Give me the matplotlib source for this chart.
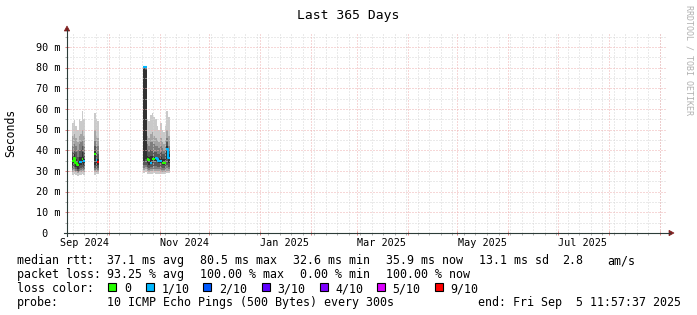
import matplotlib
matplotlib.use('Agg')
import matplotlib.pyplot as plt
import matplotlib.transforms as transforms
from matplotlib.patches import Rectangle, Polygon
from matplotlib.lines import Line2D
import numpy as np
from datetime import datetime, timedelta

# graph window: last 365 days ending at the probe's end time
start = datetime(2024, 9, 5, 11, 57, 37)
end = start + timedelta(days=365)

# three stretches of data (start day offset, number of 1-day columns)
cluster_start = [3.0, 16.5, 46.5]
cluster_cols = [8, 3, 16]

# sorted pings per column (ms), ping1 = fastest ... ping10 = slowest
ping10 = [53, 54.5, 52, 50, 55, 54, 59, 55,
          58, 55, 54,
          81, 80.5, 55, 54, 57, 58, 56, 55, 52, 50, 53, 50, 49, 52, 59, 56]
ping9 = [47, 48, 46, 44, 47, 48, 50, 47,
         50, 47, 46,
         80.5, 80.5, 47, 46, 48, 49, 47, 46, 45, 44, 46, 44, 43, 45, 50, 47]
ping8 = [42, 43, 42, 40, 43, 44, 45, 42,
         45, 42, 42,
         80.5, 80, 43, 42, 44, 44, 43, 42, 42, 41, 42, 41, 40, 42, 46, 42]
ping7 = [39, 40, 39, 37, 39.5, 40, 42, 39,
         42, 39, 38,
         80, 80, 40, 39, 40, 40, 39, 39, 38, 38, 39, 38, 38, 39, 44, 40]
ping6 = [37, 38, 36, 35, 37, 37, 39, 37,
         40, 37, 36,
         79.5, 79, 37.5, 37, 37.5, 37.5, 37, 37, 36.5, 36.5, 37, 36, 36, 37, 42, 38]
ping5 = [33, 34, 32, 31, 32.5, 33, 34, 33,
         33, 33, 33,
         35, 36, 34, 33, 34, 34, 35, 35, 35, 34, 34, 33, 33, 33, 36, 34]
ping4 = [31.5, 32, 31, 30, 31, 31.5, 32, 31.5,
         31.5, 31.5, 31.5,
         33, 33, 32, 31.5, 32, 32, 32.5, 32.5, 32, 32, 32, 31.5, 31.5, 31.5, 33, 32]
ping3 = [30.5, 31, 30, 29.5, 30, 30.5, 31, 30.5,
         30.5, 30.5, 30.5,
         31.5, 32, 31, 30.5, 31, 31, 31, 31, 31, 31, 30.5, 30.5, 30.5, 30.5, 31.5, 31]
ping2 = [29.5, 30, 29.5, 29, 29.5, 29.5, 30, 29.5,
         29.5, 29.5, 29.5,
         30.5, 31, 30, 29.5, 30, 30, 30, 30, 30, 30, 29.5, 29.5, 29.5, 29.5, 30, 30]
ping1 = [28, 28.5, 28, 27.5, 28, 28, 28.5, 28,
         28, 28.5, 28.5,
         29, 29.5, 28.5, 28.5, 28.5, 28.5, 29, 28.5, 28.5, 28.5, 28.5, 28.5, 28.5, 28.5, 29, 29]

median = [35, 36.5, 34, 32.8, 34.5, 34.5, 36, 35,
          38.2, 35.2, 34.5,
          80.5, 80.5, 36, 35.5, 33.9, 36, 36, 36.3, 36, 35, 35, 34, 34, 34, 40.5, 36.4]
loss = [0, 0, 0, 0, 1, 1, 0, 1,
        0, 1, 9,
        1, 1, 0, 0, 1, 0, 0, 1, 1, 1, 1, 0, 0, 0, 1, 1]

loss_keys = [0, 1, 2, 3, 4, 5, 9]
loss_labels = ['0', '1/10', '2/10', '3/10', '4/10', '5/10', '9/10']
loss_colors = ['#26ff00', '#00b8ff', '#0059ff', '#5e00ff', '#7e00ff', '#dd00ff', '#ff0000']

y_ticks = [0, 10, 20, 30, 40, 50, 60, 70, 80, 90]
x_labels = ['Sep 2024', 'Nov 2024', 'Jan 2025', 'Mar 2025', 'May 2025', 'Jul 2025']
x_label_months = [(2024, 9), (2024, 11), (2025, 1), (2025, 3), (2025, 5), (2025, 7)]

legend_rows = [
    [('median rtt:', 16.7), ('37.1 ms avg', 107.3), ('80.5 ms max', 200), ('32.6 ms min', 293.3),
     ('35.9 ms now', 386), ('13.1 ms sd', 479), ('2.8', 562), ('am/s', 607.3)],
    [('packet loss:', 16.7), ('93.25 % avg', 107.3), ('100.00 % max', 200), ('0.00 % min', 300.3),
     ('100.00 % now', 386)],
    [('loss color:', 16.7)],
    [('probe:', 16.7), ('10 ICMP Echo Pings (500 Bytes) every 300s', 107.3),
     ('end: Fri Sep  5 11:57:37 2025', 478.3)],
]
row_base = [264, 278, 292, 306]
box_x = [108.3, 145.7, 203.3, 261.7, 320, 376.7, 435]

MONO = 'DejaVu Sans Mono'
W, H = 697, 315


def days(d):
    return (d - start).total_seconds() / 86400.0


fig = plt.figure(figsize=(W / 100, H / 100), dpi=100)
fig.patch.set_facecolor('white')
px = transforms.Affine2D().scale(1.0 / W, -1.0 / H).translate(0, 1) + fig.transFigure

ax = fig.add_axes([67 / W, (H - 233) / H, 600 / W, 200 / H])
ax.set_xlim(0, 365)
ax.set_ylim(0, 200 * 90 / 186.0)
for s in ax.spines.values():
    s.set_visible(False)

# smoke: band i spans ping i .. ping (11-i), darker inside
pings = np.array([ping1, ping2, ping3, ping4, ping5, ping6, ping7, ping8, ping9, ping10], dtype=float)
med = np.array(median, dtype=float)
lossa = np.array(loss)
pos = 0
for c0, n in zip(cluster_start, cluster_cols):
    edges = c0 + np.arange(n + 1)
    sl = slice(pos, pos + n)
    for i in range(5):
        g = int(190 / 5 * (5 - (i + 1))) + 50
        col = '#%02x%02x%02x' % (g, g, g)
        lo = np.append(pings[i, sl], pings[i, sl][-1])
        hi = np.append(pings[9 - i, sl], pings[9 - i, sl][-1])
        ax.fill_between(edges, lo, hi, step='post', color=col, linewidth=0, zorder=2)
    for k, lc in zip(loss_keys, loss_colors):
        y = np.where(lossa[sl] == k, med[sl], np.nan)
        if np.all(np.isnan(y)):
            continue
        ax.plot(edges, np.append(y, y[-1]), drawstyle='steps-post', color=lc, lw=1.5,
                solid_capstyle='butt', zorder=5)
    pos += n

# grid
grid_c = '#d6d6d6'
mgrid_c = '#eeb0b0'
dots = (0, (1, 2))
for v in np.arange(5, 97, 5):
    if v % 10:
        ax.axhline(v, color=grid_c, lw=0.72, ls=dots, zorder=3)
mondays = []
d = datetime(2024, 9, 9)
while d < end:
    mondays.append(days(d))
    d += timedelta(days=7)
for m in mondays:
    ax.axvline(m, color=grid_c, lw=0.72, ls=dots, zorder=3)
month_starts = []
yy, mm = 2024, 10
while datetime(yy, mm, 1) < end:
    month_starts.append(days(datetime(yy, mm, 1)))
    mm += 1
    if mm > 12:
        yy, mm = yy + 1, 1
for v in y_ticks[1:]:
    ax.axhline(v, color=mgrid_c, lw=0.72, ls=dots, zorder=3)
for m in month_starts:
    ax.axvline(m, color=mgrid_c, lw=0.72, ls=dots, zorder=3)

# axis ticks
ax.set_yticks(y_ticks)
ax.set_yticks(np.arange(5, 96, 10), minor=True)
ax.set_xticks(month_starts)
ax.set_xticks(mondays, minor=True)
ax.tick_params(which='major', direction='inout', length=3.5, width=0.72, color='#e08080',
               labelleft=False, labelbottom=False)
ax.tick_params(which='minor', direction='out', length=1.6, width=0.72, color='#b0b0b0')

# axis lines with arrows
axis_c = '#2c3c38'
fig.add_artist(Line2D([64, 670], [233, 233], transform=px, color=axis_c, lw=0.8))
fig.add_artist(Line2D([67, 67], [236, 30], transform=px, color=axis_c, lw=0.8))
fig.add_artist(Polygon([[67, 26], [64.3, 31], [69.7, 31]], closed=True, transform=px,
                       facecolor='#7f1f1f', edgecolor='#7f1f1f', lw=0.5))
fig.add_artist(Polygon([[674, 233], [669, 230.3], [669, 235.7]], closed=True, transform=px,
                       facecolor='#7f1f1f', edgecolor='#7f1f1f', lw=0.5))

# tick labels
ylab_tr = transforms.blended_transform_factory(px, ax.transData) + \
    transforms.ScaledTranslation(0, -3.7 / 100, fig.dpi_scale_trans)
for v in y_ticks:
    lab = ('%2d m' % v) if v else ' 0'
    ax.text(36, v, lab, transform=ylab_tr, ha='left', va='baseline',
            fontsize=7.3, family=MONO, color='black')
xlab_tr = transforms.blended_transform_factory(ax.transData, px)
for lab, (yy, mm) in zip(x_labels, x_label_months):
    ax.text(days(datetime(yy, mm, 1)) + 15, 245.5, lab, transform=xlab_tr, ha='center',
            va='baseline', fontsize=7.3, family=MONO, color='black', clip_on=False)

# title, unit label, watermark
fig.text(348.5, 18.5, 'Last 365 Days', transform=px, ha='center', va='baseline',
         fontsize=9.4, family=MONO)
fig.text(10.5, 133, 'Seconds', transform=px, ha='center', va='center', rotation=90,
         fontsize=8.3, family=MONO)
fig.text(688.5, 60, 'RRDTOOL / TOBI OETIKER', transform=px, ha='center', va='center',
         rotation=270, fontsize=6, family=MONO, color='#b0b0b0')

# legend block
for row, yb in zip(legend_rows, row_base):
    for txt, x in row:
        fig.text(x, yb, txt, transform=px, ha='left', va='baseline', fontsize=8.35, family=MONO)
for bx, lab, lc in zip(box_x, loss_labels, loss_colors):
    fig.add_artist(Rectangle((bx, 283.3), 8, 8, transform=px, facecolor=lc,
                             edgecolor='black', lw=0.8))
    fig.text(bx + 15.7, row_base[2], lab, transform=px, ha='left', va='baseline',
             fontsize=8.35, family=MONO)

fig.savefig('out.png', dpi=100, facecolor='white')
